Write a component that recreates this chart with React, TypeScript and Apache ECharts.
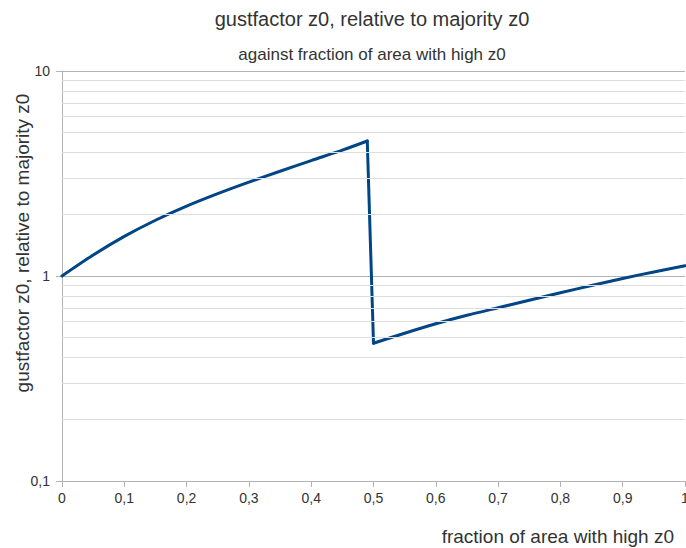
import React, { useEffect, useRef } from "react";
import * as echarts from "echarts";

const titleText = "gustfactor z0, relative to majority z0";
const subtitleText = "against fraction of area with high z0";
const xAxisTitle = "fraction of area with high z0";
const yAxisTitle = "gustfactor z0, relative to majority z0";

// first branch (rising), then the drop to the second branch
const xRising = [0, 0.05, 0.1, 0.15, 0.2, 0.25, 0.3, 0.35, 0.4, 0.45, 0.49];
const yRising = [1.0, 1.265, 1.56, 1.871, 2.193, 2.523, 2.871, 3.243, 3.656, 4.111, 4.556];
const xSecond = [0.5, 0.55, 0.6, 0.65, 0.7, 0.75, 0.8, 0.85, 0.9, 0.95, 1.0];
const ySecond = [0.47, 0.526, 0.585, 0.643, 0.7, 0.762, 0.828, 0.899, 0.973, 1.047, 1.122];
const minorGridValues = [0.2, 0.3, 0.4, 0.5, 0.6, 0.7, 0.8, 0.9, 2, 3, 4, 5, 6, 7, 8, 9];

const fmt = (v: number) => String(Math.round(v * 1000) / 1000).replace(".", ",");

export default function App() {
  const ref = useRef<HTMLDivElement>(null);
  useEffect(() => {
    if (!ref.current) return;
    const chart = echarts.init(ref.current, undefined, { renderer: "svg" });
    const font = "Liberation Sans, Arial, sans-serif";
    const lineStyle = { color: "#004586", width: 3, join: "round", cap: "round" };
    const rising = xRising.map((x, i) => [x, yRising[i]]);
    const second = xSecond.map((x, i) => [x, ySecond[i]]);
    const drop = [rising[rising.length - 1], second[0]];
    chart.setOption({
      animation: false,
      textStyle: { fontFamily: font },
      grid: { left: 62, right: 1, top: 71, bottom: 67, containLabel: false, outerBoundsMode: "none" },
      xAxis: {
        type: "value",
        min: 0,
        max: 1,
        interval: 0.1,
        axisLine: { show: true, lineStyle: { color: "#b3b3b3", width: 1 } },
        axisTick: { show: true, length: 6, lineStyle: { color: "#b3b3b3" } },
        axisLabel: { color: "#333", fontSize: 14, margin: 10, formatter: fmt, fontFamily: font },
        splitLine: { show: false },
      },
      yAxis: {
        type: "log",
        logBase: 10,
        min: 0.1,
        max: 10,
        axisLine: { show: true, lineStyle: { color: "#b3b3b3", width: 1 } },
        axisTick: { show: true, length: 6, lineStyle: { color: "#b3b3b3" } },
        axisLabel: { color: "#333", fontSize: 14, margin: 12, formatter: fmt, fontFamily: font },
        splitLine: { show: true, lineStyle: { color: "#b3b3b3", width: 1 } },
      },
      graphic: [
        {
          type: "text", x: 372, y: 9,
          style: { text: titleText, fill: "#333", fontSize: 20, fontFamily: font, align: "center", verticalAlign: "top" },
        },
        {
          type: "text", x: 372, y: 46,
          style: { text: subtitleText, fill: "#333", fontSize: 17, fontFamily: font, align: "center", verticalAlign: "top" },
        },
        {
          type: "text", x: 674, y: 536,
          style: { text: xAxisTitle, fill: "#333", fontSize: 19, fontFamily: font, align: "right", verticalAlign: "middle" },
        },
        {
          type: "text", x: 22, y: 243, rotation: Math.PI / 2,
          style: { text: yAxisTitle, fill: "#333", fontSize: 19, fontFamily: font, align: "center", verticalAlign: "middle" },
        },
      ],
      series: [
        {
          type: "line",
          data: [],
          silent: true,
          z: 1,
          markLine: {
            silent: true,
            symbol: "none",
            label: { show: false },
            lineStyle: { color: "#dddddd", width: 1, type: "solid" },
            data: minorGridValues.map((v) => ({ yAxis: v })),
          },
        },
        {
          type: "line", z: 3, data: rising, showSymbol: false, symbol: "none",
          smooth: 0.3, lineStyle, itemStyle: { color: "#004586" },
        },
        {
          type: "line", z: 3, data: drop, showSymbol: false, symbol: "none",
          lineStyle, itemStyle: { color: "#004586" },
        },
        {
          type: "line", z: 3, data: second, showSymbol: false, symbol: "none",
          smooth: 0.3, lineStyle, itemStyle: { color: "#004586" },
        },
      ],
    });
    return () => chart.dispose();
  }, []);
  return <div ref={ref} style={{ position: "fixed", left: 0, top: 0, width: 686, height: 548, background: "#fff" }} />;
}
